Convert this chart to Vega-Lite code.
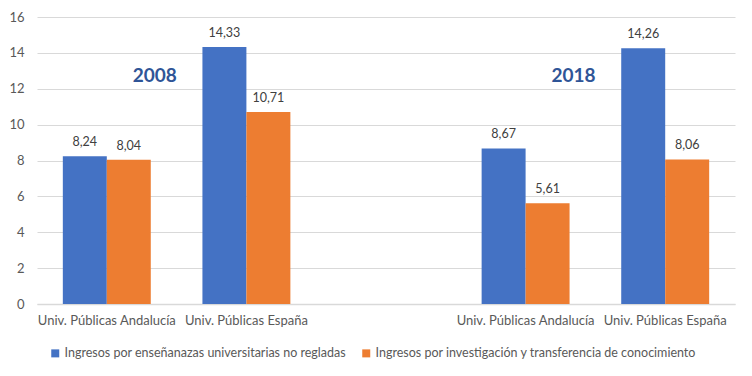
{
  "$schema": "https://vega.github.io/schema/vega-lite/v6.json",
  "width": 698,
  "height": 287,
  "autosize": {"type": "none"},
  "padding": {"left": 37, "top": 17, "right": 17, "bottom": 72},
  "background": "white",
  "config": {
    "view": {"stroke": null},
    "font": "Lato",
    "locale": {"number": {"decimal": ",", "thousands": ".", "grouping": [3], "currency": ["", " €"]}}
  },
  "datasets": {
    "bars": [
      {"g": "A08", "s": "Ingresos por enseñanazas universitarias no regladas", "v": 8.24},
      {"g": "A08", "s": "Ingresos por investigación y transferencia de conocimiento", "v": 8.04},
      {"g": "E08", "s": "Ingresos por enseñanazas universitarias no regladas", "v": 14.33},
      {"g": "E08", "s": "Ingresos por investigación y transferencia de conocimiento", "v": 10.71},
      {"g": "A18", "s": "Ingresos por enseñanazas universitarias no regladas", "v": 8.67},
      {"g": "A18", "s": "Ingresos por investigación y transferencia de conocimiento", "v": 5.61},
      {"g": "E18", "s": "Ingresos por enseñanazas universitarias no regladas", "v": 14.26},
      {"g": "E18", "s": "Ingresos por investigación y transferencia de conocimiento", "v": 8.06}
    ],
    "notes": [
      {"g": "A08", "v": 12.7, "t": "2008"},
      {"g": "A18", "v": 12.7, "t": "2018"}
    ]
  },
  "encoding": {
    "x": {
      "field": "g", "type": "nominal",
      "scale": {"domain": ["A08", "E08", "gap", "A18", "E18"], "paddingInner": 0.37, "paddingOuter": 0.185},
      "axis": {
        "title": null,
        "labelExpr": "{'A08':'Univ. Públicas  Andalucía','E08':'Univ. Públicas  España','gap':'','A18':'Univ. Públicas  Andalucía','E18':'Univ. Públicas  España'}[datum.value]",
        "labelAngle": 0,
        "labelFontSize": 13,
        "labelColor": "#595959",
        "labelPadding": 10,
        "ticks": false,
        "domainColor": "#D9D9D9",
        "domainWidth": 1.5,
        "labelLimit": 200
      }
    },
    "y": {
      "field": "v", "type": "quantitative",
      "scale": {"domain": [0, 16], "nice": false},
      "axis": {
        "title": null,
        "values": [0, 2, 4, 6, 8, 10, 12, 14, 16],
        "labelOverlap": false,
        "domain": false,
        "ticks": false,
        "gridColor": "#D9D9D9",
        "labelFontSize": 13,
        "labelColor": "#595959",
        "labelPadding": 13
      }
    }
  },
  "layer": [
    {
      "data": {"name": "bars"},
      "mark": {"type": "bar"},
      "encoding": {
        "xOffset": {"field": "s", "type": "nominal", "scale": {"paddingInner": 0, "paddingOuter": 0}},
        "color": {
          "field": "s", "type": "nominal",
          "scale": {
            "domain": ["Ingresos por enseñanazas universitarias no regladas", "Ingresos por investigación y transferencia de conocimiento"],
            "range": ["#4472C4", "#ED7D31"]
          },
          "legend": {
            "title": null,
            "orient": "none",
            "direction": "horizontal",
            "legendX": 12,
            "legendY": 330,
            "symbolType": "square",
            "symbolSize": 64,
            "symbolStrokeWidth": 0,
            "labelFontSize": 12.5,
            "labelColor": "#595959",
            "labelLimit": 400,
            "columnPadding": 14,
            "labelOffset": 3
          }
        }
      }
    },
    {
      "data": {"name": "bars"},
      "mark": {"type": "text", "baseline": "bottom", "dy": -7, "fontSize": 12.5, "color": "#404040"},
      "encoding": {
        "xOffset": {"field": "s", "type": "nominal"},
        "text": {"field": "v", "type": "quantitative", "format": ".2f"}
      }
    },
    {
      "data": {"name": "notes"},
      "mark": {"type": "text", "baseline": "middle", "align": "center", "dx": 48, "fontSize": 19, "fontWeight": "bold", "color": "#2F5597"},
      "encoding": {
        "text": {"field": "t", "type": "nominal"}
      }
    }
  ]
}
